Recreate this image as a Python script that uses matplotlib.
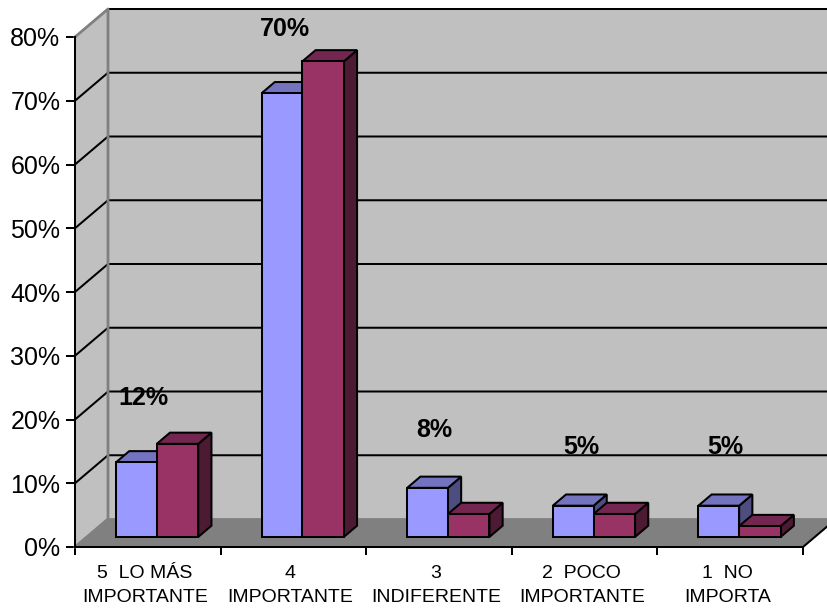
import matplotlib
matplotlib.use('Agg')
from matplotlib import pyplot as plt, patches

plt.rcParams['font.family'] = ['Liberation Sans', 'DejaVu Sans']

categorias = ['5  LO MÁS\nIMPORTANTE', '4\nIMPORTANTE', '3\nINDIFERENTE', '2  POCO\nIMPORTANTE', '1  NO\nIMPORTA']
serie_azul = [11.7, 69.6, 7.7, 4.9, 4.9]
serie_roja = [14.6, 74.6, 3.6, 3.6, 1.7]
etiquetas = ['12%', '70%', '8%', '5%', '5%']
y_ticks = [0, 10, 20, 30, 40, 50, 60, 70, 80]

azul = ('#9999ff', '#7373bf', '#4d4d80')
rojo = ('#993366', '#732650', '#4d1a33')
gris = '#808080'
pared = '#c0c0c0'
lw = 1.45

# profondeur 3D : decalage du fond en unites de donnees
DX = 33 / 145.6
DY = 28 / 6.375

fig = plt.figure(figsize=(8.28, 6.10), dpi=100)
ax = fig.add_axes([75 / 828, 1 - 547 / 610, 728 / 828, 510 / 610])
ax.set_xlim(0, 5)
ax.set_ylim(0, 80)
ax.patch.set_visible(False)


def proj(x, y, d):
    return (x + d * DX, y + d * DY)


def poly(pts, fc, ec='black', z=2, width=lw):
    ax.add_patch(patches.Polygon(pts, closed=True, facecolor=fc, edgecolor=ec, linewidth=width,
                                 joinstyle='miter', clip_on=False, zorder=z))


# murs et sol
poly([proj(0, 0, 1), proj(5, 0, 1), proj(5, 80, 1), proj(0, 80, 1)], pared, 'none', 1)
poly([proj(0, 0, 0), proj(0, 0, 1), proj(0, 80, 1), proj(0, 80, 0)], pared, 'none', 1)
poly([proj(0, 0, 0), proj(5, 0, 0), proj(5, 0, 1), proj(0, 0, 1)], gris, 'none', 1)

# grille
for v in y_ticks[1:-1]:
    ax.plot(*zip(proj(0, v, 0), proj(0, v, 1), proj(5, v, 1)), color='black', lw=lw,
            clip_on=False, zorder=1.5, solid_joinstyle='miter')
ax.plot(*zip(proj(0, 80, 1), proj(5, 80, 1)), color='black', lw=lw, clip_on=False, zorder=1.5)

# aretes grises des murs
ax.plot(*zip(proj(0, 0, 0), proj(0, 0, 1), proj(0, 80, 1), proj(0, 80, 0)), color=gris, lw=2,
        clip_on=False, zorder=1.6)
ax.plot(*zip(proj(0, 0, 1), proj(5, 0, 1)), color=gris, lw=2, clip_on=False, zorder=1.2)
ax.plot(*zip(proj(5, 0, 0), proj(5, 0, 1)), color='black', lw=lw, clip_on=False, zorder=1.6)


def barre(x0, x1, v, couleurs, z):
    d0, d1 = 0.36, 0.76
    poly([proj(x1, 0, d0), proj(x1, 0, d1), proj(x1, v, d1), proj(x1, v, d0)], couleurs[2], z=z)
    poly([proj(x0, v, d0), proj(x1, v, d0), proj(x1, v, d1), proj(x0, v, d1)], couleurs[1], z=z)
    poly([proj(x0, 0, d0), proj(x1, 0, d0), proj(x1, v, d0), proj(x0, v, d0)], couleurs[0], z=z + 0.1)


decal_x = [0.47, 0.44, 0.47, 0.475, 0.47]
decal_y = [11.6, 11.7, 10.7, 10.8, 10.8]
for i in range(len(categorias)):
    barre(i + 0.2, i + 0.48, serie_azul[i], azul, 3)
    barre(i + 0.48, i + 0.765, serie_roja[i], rojo, 4)
    ax.text(i + decal_x[i], serie_azul[i] + decal_y[i], etiquetas[i], ha='center', va='center',
            fontsize=18, fontweight='bold', color='black', zorder=6)

# axes
for s in ['top', 'right']:
    ax.spines[s].set_visible(False)
for s in ['left', 'bottom']:
    ax.spines[s].set_linewidth(lw)
    ax.spines[s].set_zorder(5)
ax.set_yticks(y_ticks)
ax.set_yticklabels([str(v) + '%' for v in y_ticks], fontsize=18)
ax.tick_params(axis='y', length=6.5, width=lw, pad=4)
ax.set_xticks(range(6))
ax.set_xticklabels([])
ax.set_xticks([i + 0.48 for i in range(5)], categorias, minor=True, fontsize=14, linespacing=1.55)
ax.tick_params(axis='x', which='major', length=6, width=lw)
ax.tick_params(axis='x', which='minor', length=0, pad=13)

fig.savefig('out.png', dpi=100)
